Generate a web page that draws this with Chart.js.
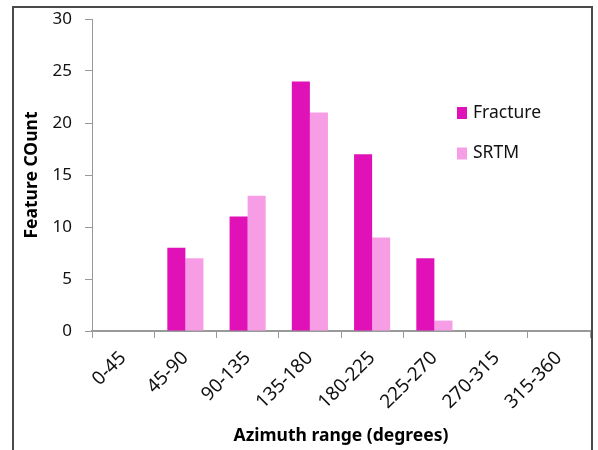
<!DOCTYPE html>
<html>
<head>
<meta charset="utf-8">
<script src="https://cdn.jsdelivr.net/npm/chart.js@4"></script>
<style>
  body { margin: 0; background: #fff; }
</style>
</head>
<body>
<canvas id="azimuthChart" width="598" height="450"></canvas>
<script>
const categories = ['0-45', '45-90', '90-135', '135-180', '180-225', '225-270', '270-315', '315-360'];
const fractureCounts = [0, 8, 11, 24, 17, 7, 0, 0];
const srtmCounts = [0, 7, 13, 21, 9, 1, 0, 0];
const yMin = 0, yMax = 30, yStep = 5;

// frame around the figure + legend drawn inside the plot (like the original)
const framePlugin = {
  id: 'frame',
  beforeDraw(chart) {
    const ctx = chart.ctx;
    ctx.save();
    ctx.strokeStyle = '#4a4a4a';
    ctx.lineWidth = 2;
    ctx.strokeRect(13, 7, 579, 470);
    ctx.restore();
  }
};

const sideLegend = {
  id: 'sideLegend',
  afterDraw(chart) {
    const ctx = chart.ctx;
    ctx.save();
    ctx.font = '17.5px "Noto Sans"';
    ctx.textBaseline = 'middle';
    chart.data.datasets.forEach((ds, i) => {
      const y = 113 + i * 40.5;
      ctx.fillStyle = ds.backgroundColor;
      ctx.fillRect(457, y - 6, 10, 12);
      ctx.fillStyle = '#111';
      ctx.fillText(ds.label, 473, y);
    });
    ctx.restore();
  }
};

const ctx = document.getElementById('azimuthChart').getContext('2d');
const azimuthChart = new Chart(ctx, {
  type: 'bar',
  data: {
    labels: categories,
    datasets: [{
      label: 'Fracture',
      data: fractureCounts,
      backgroundColor: '#e011b7',
      categoryPercentage: 0.58,
      barPercentage: 1
    }, {
      label: 'SRTM',
      data: srtmCounts,
      backgroundColor: '#f79de6',
      categoryPercentage: 0.58,
      barPercentage: 1
    }]
  },
  options: {
    responsive: false,
    animation: false,
    layout: { padding: { top: 0, right: 8, left: 0, bottom: 0 } },
    scales: {
      x: {
        offset: true,
        afterFit(scale) { scale.height = 119; },
        grid: {
          drawOnChartArea: false,
          offset: true,
          color: '#999',
          tickLength: 7
        },
        border: { color: '#999', width: 2 },
        ticks: {
          minRotation: 45,
          maxRotation: 45,
          padding: 9,
          color: '#111',
          font: { family: 'Noto Sans', size: 19 }
        },
        title: {
          display: true,
          text: 'Azimuth range (degrees)',
          color: '#000',
          padding: { bottom: 3 },
          font: { family: 'Noto Sans', size: 17.5, weight: 'bold' }
        }
      },
      y: {
        min: yMin,
        max: yMax,
        afterFit(scale) {
          scale.width = 92;
          scale.paddingTop = 19;
          scale.paddingBottom = 0;
        },
        grid: {
          drawOnChartArea: false,
          color: '#999',
          tickLength: 7
        },
        border: { color: '#999', width: 1 },
        ticks: {
          stepSize: yStep,
          padding: 13,
          color: '#111',
          font: { family: 'Noto Sans', size: 17 }
        },
        title: {
          display: true,
          text: 'Feature COunt',
          color: '#000',
          padding: { top: 22 },
          font: { family: 'Noto Sans', size: 17.5, weight: 'bold' }
        }
      }
    },
    plugins: {
      legend: { display: false },
      tooltip: { enabled: false }
    }
  },
  plugins: [framePlugin, sideLegend]
});
</script>
</body>
</html>
